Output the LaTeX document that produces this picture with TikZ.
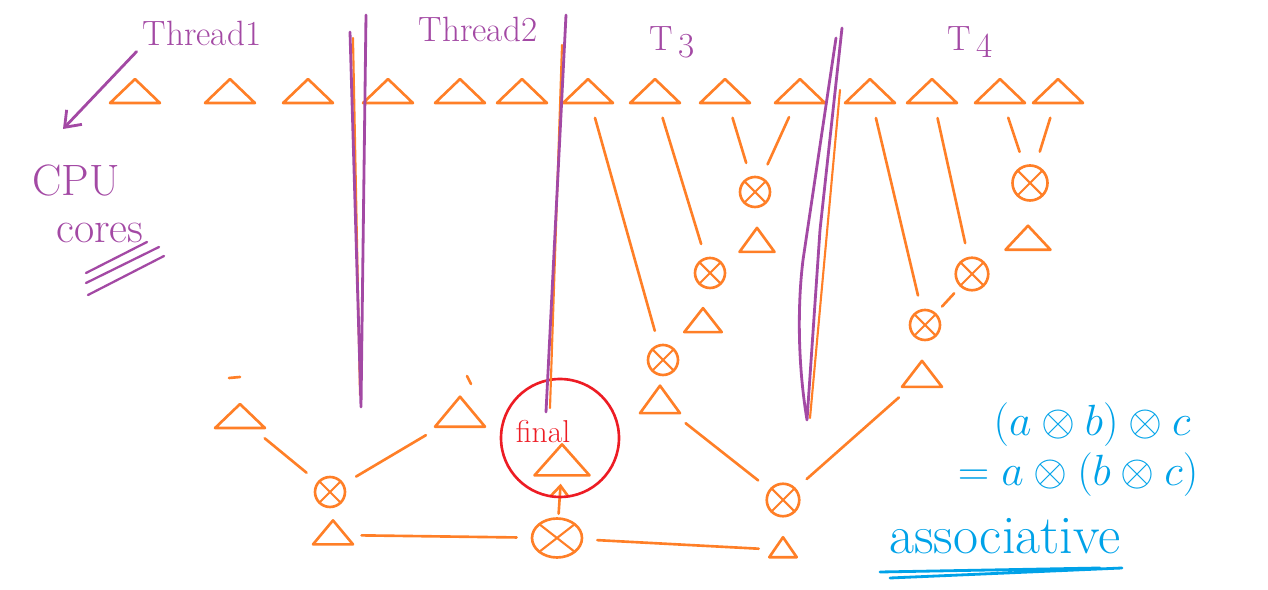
\documentclass[tikz,border=0pt]{standalone}
\usetikzlibrary{shapes.geometric,arrows.meta}
\definecolor{penorange}{RGB}{255,127,39}
\definecolor{penpurple}{RGB}{163,73,164}
\definecolor{penred}{RGB}{237,28,36}
\definecolor{penblue}{RGB}{0,162,232}
\begin{document}
\begin{tikzpicture}[x=0.02cm,y=-0.02cm,line cap=round,line join=round,
	tri/.style={draw=penorange,line width=1.5pt,isosceles triangle,isosceles triangle stretches,
		shape border rotate=90,minimum width=1cm,minimum height=0.48cm,inner sep=0pt},
	op/.style={draw=penorange,line width=1.5pt,circle,minimum size=0.6cm,inner sep=0pt,
		path picture={\draw[penorange,line width=1.2pt]
			(path picture bounding box.south west) -- (path picture bounding box.north east)
			(path picture bounding box.north west) -- (path picture bounding box.south east);}},
	link/.style={draw=penorange,line width=1.5pt,shorten <=8pt,shorten >=8pt},
	sep/.style={draw=penpurple,line width=1.6pt},
	hand/.style={text=penpurple,font=\fontsize{20}{24}\selectfont},
	chalk/.style={text=penblue,font=\fontsize{28}{32}\selectfont}]
	
	\useasboundingbox (0,0) rectangle (1268,590);
	
	% values in the input row
	\foreach \x [count=\i] in {135,230,308,388,460,522,588,655,725,800,870,932,1000,1058}
		\node[tri] (t\i) at (\x,93) {};
	
	% thread 3
	\node[op] (o33) at (755,192) {};
	\node[tri,minimum width=0.7cm,minimum height=0.48cm] (r33) at (757,243) {};
	\node[op] (o32) at (710,273) {};
	\node[tri,minimum width=0.75cm,minimum height=0.48cm] (r32) at (703,323) {};
	\node[op] (o31) at (663,360) {};
	\node[tri,minimum width=0.8cm,minimum height=0.55cm] (r31) at (660,403) {};
	\draw[link] (t9) -- (o33);
	\draw[link] (t10) -- (o33);
	\draw[link] (t8) -- (o32);
	\draw[link] (t7) -- (o31);
	
	% thread 4
	\node[op,minimum size=0.7cm] (o43) at (1030,183) {};
	\node[tri,minimum width=0.9cm,minimum height=0.48cm] (r43) at (1028,240) {};
	\node[op,minimum size=0.65cm] (o42) at (972,274) {};
	\node[op] (o41) at (925,325) {};
	\node[tri,minimum width=0.8cm,minimum height=0.52cm] (r41) at (922,377) {};
	\draw[link] (t13) -- (o43);
	\draw[link] (t14) -- (o43);
	\draw[link] (t12) -- (o42);
	\draw[link,shorten <=5pt,shorten >=5pt] (o42) -- (o41);
	\draw[link] (t11) -- (o41);
	
	% threads 1 and 2
	\node[tri] (rT1) at (240,418) {};
	\node[tri,minimum height=0.6cm] (rT2) at (460,415) {};
	\draw[penorange,line width=1.5pt] (229,378) -- (240,377) (467,376) -- (471,384);
	
	% combining the partial results
	\node[op] (o12) at (330,492) {};
	\node[tri,minimum width=0.8cm,minimum height=0.48cm] (r12) at (333,535) {};
	\node[op,minimum size=0.65cm] (o34) at (783,500) {};
	\node[tri,minimum width=0.55cm,minimum height=0.4cm] (r34) at (783,550) {};
	\node[op,ellipse,minimum width=1cm,minimum height=0.78cm] (o5) at (557,538) {};
	\node[tri,minimum width=1.1cm,minimum height=0.62cm] (fin) at (562,463) {};
	\draw[link] (rT1) -- (o12);
	\draw[link] (rT2) -- (o12);
	\draw[link] (r31) -- (o34);
	\draw[link] (r41) -- (o34);
	\draw[link] (r12) -- (o5);
	\draw[link] (r34) -- (o5);
	\draw[link,shorten <=2pt,shorten >=4pt,-{Straight Barb[length=6pt,width=10pt]}] (o5) -- (fin);
	
	\node[draw=penred,line width=1.5pt,circle,minimum size=2.36cm] (ring) at (560,438) {};
	\node[text=penred,font=\fontsize{18}{20}\selectfont] (finlbl) at (543,432) {final};
	
	% thread boundaries
	\draw[penorange,line width=1.2pt] (353,38) -- (360,395) (562,45) -- (550,408) (840,90) -- (810,418);
	\draw[sep] (350,32) -- (361,407) -- (366,15);
	\draw[sep] (566,15) -- (546,412);
	\draw[sep] (842,28) -- (820,230) -- (807,420) .. controls (797,360) and (798,300) .. (803,260) -- (836,38);
	
	% labels
	\node[hand] (lblT1) at (202,33) {Thread1};
	\node[hand] (lblT2) at (478,29) {Thread2};
	\node[hand] (lblT3) at (672,42) {T\,\raisebox{-4pt}{3}};
	\node[hand] (lblT4) at (970,42) {T\,\raisebox{-4pt}{4}};
	\node[hand,font=\fontsize{25}{30}\selectfont] (cpu) at (76,181) {CPU};
	\node[hand,font=\fontsize{25}{30}\selectfont] (cores) at (100,233) {cores};
	\coordinate (cpuarrow) at (63,129);
	\draw[sep,-{Straight Barb[length=8pt,width=12pt]}] (lblT1.south west) -- (cpuarrow);
	\draw[sep,line width=1.3pt] (86,273) -- (147,242) (86,283) -- (159,247) (88,295) -- (164,256);
	
	% associativity
	\node[chalk] (lhs) at (1092,425) {$(a\otimes b)\otimes c$};
	\node[chalk] (rhs) at (1078,475) {$=a\otimes(b\otimes c)$};
	\node[chalk,font=\fontsize{31}{34}\selectfont] (assoc) at (1005,536) {associative};
	\draw[penblue,line width=1.6pt] (880,572) -- (1100,568) (890,578) -- (1122,568);
	
\end{tikzpicture}
\end{document}
